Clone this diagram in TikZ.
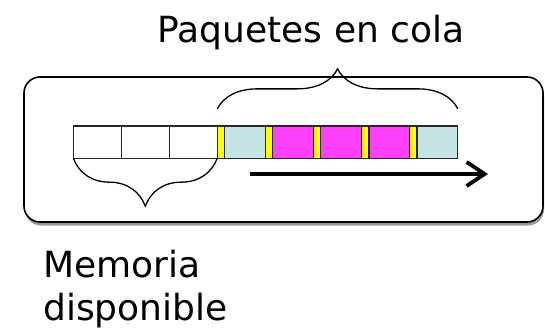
\documentclass[tikz,border=0pt]{standalone}
\usepackage{fontspec}
\setmainfont{DejaVu Sans}
\usetikzlibrary{arrows.meta,decorations.pathreplacing,shadows}

\definecolor{celeste}{RGB}{196,228,230}
\definecolor{rosa}{RGB}{255,64,255}
\definecolor{amarillo}{RGB}{255,255,0}

\tikzset{
  celda/.style={draw=black!85,line width=1.3pt,minimum height=32.3pt,
    inner sep=0pt,outer sep=0pt,anchor=west},
  libre/.style={celda,fill=white,minimum width=48pt},
  cabecera/.style={celda,fill=amarillo,minimum width=7.3pt},
  paquete/.style={celda,minimum width=40.8pt},
  marco/.style={draw,line width=1.6pt,rounded corners=16pt,fill=white,
    minimum width=519pt,minimum height=145pt,inner sep=0pt,
    drop shadow={shadow xshift=1pt,shadow yshift=-3.5pt,fill=black,opacity=.4}},
  llave/.style={decorate,line width=1.3pt},
  rotulo/.style={font=\fontsize{36}{43}\selectfont,inner sep=0pt}
}

\begin{document}
\begin{tikzpicture}[x=1pt,y=-1pt]
   \useasboundingbox[fill=white] (0,0) rectangle (545,332);
   \node[marco] (bufer) at (283.5,149.5) {};

   % memoria libre
   \node[libre] (m1) at (73.3,142) {};
   \node[libre] (m2) at (121.3,142) {};
   \node[libre] (m3) at (169.3,142) {};

   % paquetes en cola
   \node[cabecera] (y1) at (217.3,142) {};
   \node[paquete,fill=celeste] (p1) at (224.6,142) {};
   \node[cabecera] (y2) at (265.4,142) {};
   \node[paquete,fill=rosa] (p2) at (272.7,142) {};
   \node[cabecera] (y3) at (313.5,142) {};
   \node[paquete,fill=rosa] (p3) at (320.8,142) {};
   \node[cabecera] (y4) at (361.6,142) {};
   \node[paquete,fill=rosa] (p4) at (368.9,142) {};
   \node[cabecera] (y5) at (409.7,142) {};
   \node[paquete,fill=celeste] (p5) at (417,142) {};

   \draw[llave,decoration={brace,amplitude=40pt}]
      ([yshift=17pt]y1.north west) -- ([yshift=17pt]p5.north east);
   \draw[llave,decoration={brace,amplitude=48pt}]
      (m3.south east) -- (m1.south west);

   \coordinate (ini) at (250,174);
   \coordinate (fin) at (488,174);
   \draw[line width=3.8pt,-{Straight Barb[length=18pt,width=24pt]}] (ini) -- (fin);

   \node[rotulo,anchor=base] (cola) at (311,42) {Paquetes en cola};
   \node[rotulo,anchor=base west,align=left] (memoria) at (43,320) {Memoria\\disponible};
\end{tikzpicture}
\end{document}
